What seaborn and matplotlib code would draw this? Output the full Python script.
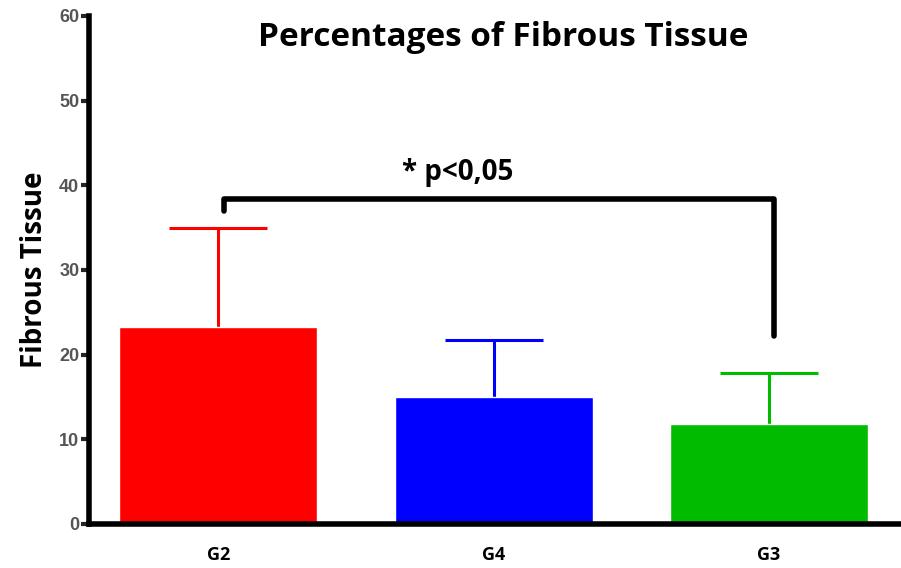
import numpy as np
import pandas as pd
import matplotlib
matplotlib.use("Agg")
import matplotlib.pyplot as plt
import seaborn as sns

# ------------------------- DATI -------------------------
groups = ["G2", "G4", "G3"]
means = [23.3, 15.0, 11.8]
sd_upper = [11.6, 6.7, 6.0]
bar_colors = ["#ff0000", "#0000ff", "#00bb00"]
yticks = [0, 10, 20, 30, 40, 50, 60]

# bracket: left foot, bar height, right foot (data units)
bracket_left = 37.0
bracket_top = 38.4
bracket_right = 22.2
sig_text = "* p<0,05"

# ------------------------- PLOT -------------------------
sns.set_style("white")
plt.rcParams["font.family"] = ["Open Sans", "DejaVu Sans"]
plt.rcParams["text.color"] = "black"
plt.rcParams["axes.labelcolor"] = "black"

fig = plt.figure(figsize=(9.01, 5.68), dpi=100)
ax = fig.add_axes([0.0988, 0.0775, 0.9012, 0.8945])

df = pd.DataFrame({"group": groups, "value": means})
sns.barplot(data=df, x="group", y="value", hue="group", palette=bar_colors,
            width=0.72, legend=False, errorbar=None, ax=ax, saturation=1)

x = np.arange(len(groups))
for i in range(len(groups)):
    _, caps, _ = ax.errorbar(x[i], means[i], yerr=[[0], [sd_upper[i]]], fmt="none",
                             ecolor=bar_colors[i], elinewidth=2.2, capsize=35,
                             capthick=2.2, zorder=0.5)
    # keep only the upper cap
    for c in caps:
        if np.allclose(c.get_ydata(), means[i]):
            c.set_visible(False)

# bracket
ax.plot([x[0] + 0.02, x[0] + 0.02, x[2] + 0.02, x[2] + 0.02],
        [bracket_left, bracket_top, bracket_top, bracket_right],
        color="black", lw=4, solid_joinstyle="round", solid_capstyle="round")
ax.text(0.87, 41.5, sig_text, ha="center", va="center", fontsize=20, fontweight="bold")

ax.set_ylim(0, 60)
ax.set_xlim(-0.47, 2.48)
ax.set_yticks(yticks)
ax.set_yticklabels([str(t) for t in yticks], fontsize=13, fontweight="bold",
                   color="#555555", family="Liberation Sans")
ax.set_xticks(x)
ax.set_xticklabels(groups, fontsize=13, fontweight="bold", color="black")
ax.tick_params(axis="y", direction="out", length=6, width=3, left=True, pad=1)
ax.tick_params(axis="x", length=0, pad=16)

ax.set_xlabel("")
ax.set_ylabel("Fibrous Tissue", fontsize=20, fontweight="bold", labelpad=7)
ax.set_title("Percentages of Fibrous Tissue", fontsize=24, fontweight="bold",
             x=0.51, y=0.925, color="black")

for side in ["top", "right"]:
    ax.spines[side].set_visible(False)
for side in ["left", "bottom"]:
    ax.spines[side].set_linewidth(4)
    ax.spines[side].set_color("black")

fig.savefig("out.png", dpi=100)
